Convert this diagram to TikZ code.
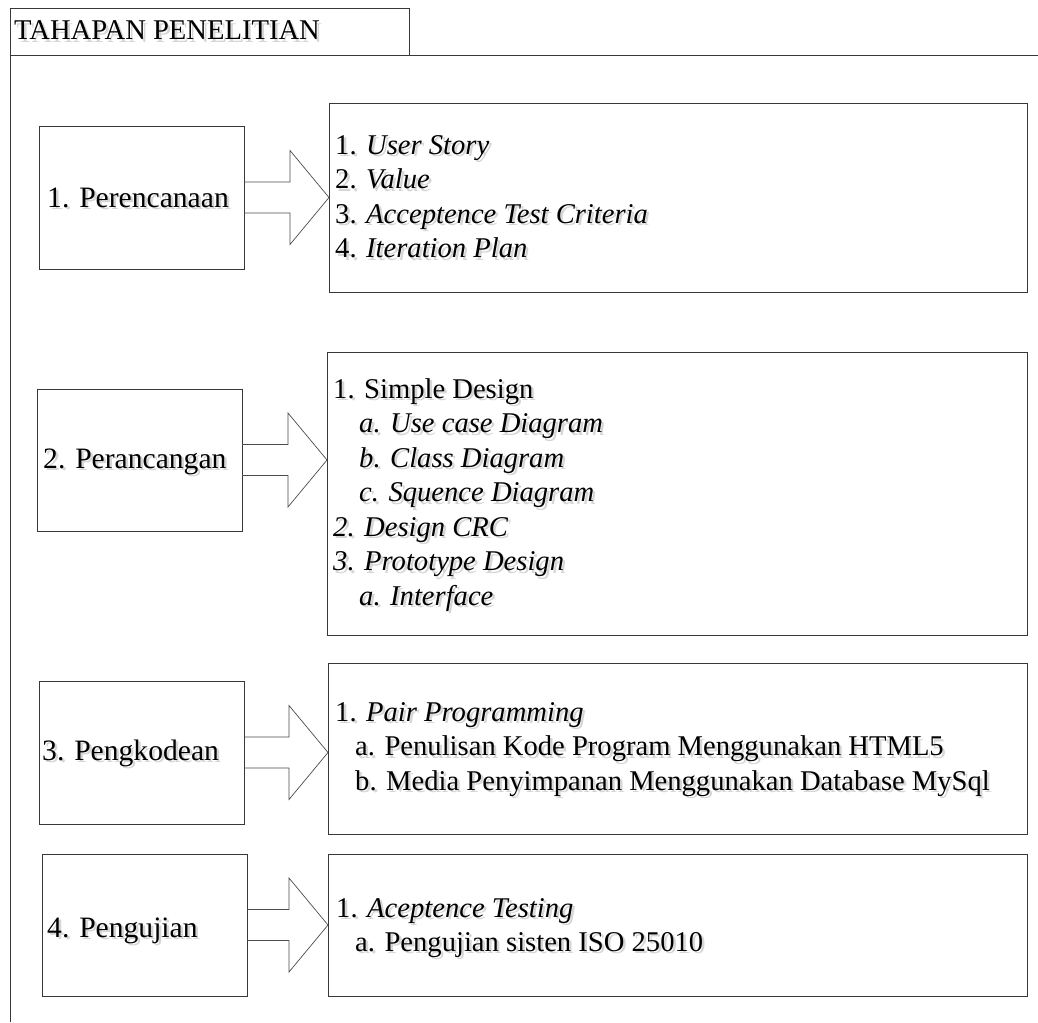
\documentclass[tikz,border=0pt]{standalone}
\usepackage{fontspec}
\setmainfont{Liberation Serif}
\usetikzlibrary{calc,backgrounds}
\tikzset{
  boxline/.style={draw=black!78, line width=0.9pt},
  shline/.style={draw=black!12, line width=1.2pt},
  arrline/.style={draw=black!70, line width=0.7pt, line join=miter},
  arrshadow/.style={draw=black!12, line width=1pt},
  txt/.style={anchor=base west, inner sep=0pt, font=\fontsize{28.6}{34}\selectfont},
  lbl/.style={anchor=base west, inner sep=0pt, font=\fontsize{29.6}{34}\selectfont},
  txtsh/.style={text=black!16, xshift=2.5pt, yshift=-2.5pt},
}
\newcommand\mybox[5]{%
  \node[boxline, minimum width=#4pt, minimum height=#5pt, anchor=north west, inner sep=0pt, outer sep=0pt] (#1) at (#2,#3) {};
  \begin{scope}[on background layer]
    \draw[shline] ($(#1.north west)+(4,4)$) rectangle ($(#1.south east)+(4,4)$);
  \end{scope}}
\newcommand\mytxt[5]{% style, name, x, y, text
  \node[#1, txtsh] at (#3,#4) {#5};
  \node[#1] (#2) at (#3,#4) {#5};}
\newcommand\blkarrow[2]{%
  \coordinate (#1tip) at (#2.west |- #1.east);
  \begin{scope}[on background layer]
  \draw[arrshadow, shift={(3,3)}] ($(#1.east)+(0,-15.5)$) -- ($(#1tip)+(-39,-15.5)$) -- ($(#1tip)+(-39,-47)$) -- (#1tip) -- ($(#1tip)+(-39,47)$) -- ($(#1tip)+(-39,15.5)$) -- ($(#1.east)+(0,15.5)$);
  \end{scope}
  \draw[arrline] ($(#1.east)+(0,-15.5)$) -- ($(#1tip)+(-39,-15.5)$) -- ($(#1tip)+(-39,-47)$) -- (#1tip) -- ($(#1tip)+(-39,47)$) -- ($(#1tip)+(-39,15.5)$) -- ($(#1.east)+(0,15.5)$);}
\begin{document}
\begin{tikzpicture}[x=1pt, y=-1pt]
\useasboundingbox[fill=white] (0,0) rectangle (1038,1022);
% title frame
\node[boxline, minimum width=399pt, minimum height=47pt, anchor=north west, inner sep=0pt, outer sep=0pt] (title) at (10,8) {};
\mytxt{txt}{titletxt}{14}{40}{TAHAPAN PENELITIAN}
\coordinate (frameR) at (1038,55);
\coordinate (frameB) at (10,1022);
\draw[boxline] (title.south east) -- (frameR);
\draw[boxline] (title.south west) -- (frameB);

% boxes
\mybox{l1}{39}{126}{205}{143}
\mybox{r1}{329}{103}{698}{189}
\mybox{l2}{37}{389}{205}{142}
\mybox{r2}{327}{352}{700}{283}
\mybox{l3}{39}{681}{205}{143}
\mybox{r3}{328}{663}{699}{171}
\mybox{l4}{42}{854}{205}{142}
\mybox{r4}{328}{854}{699}{142}

% arrows
\blkarrow{l1}{r1}
\blkarrow{l2}{r2}
\blkarrow{l3}{r3}
\blkarrow{l4}{r4}

% labels
\mytxt{lbl}{t1}{47}{207}{1. Perencanaan}
\mytxt{lbl}{t2}{43}{468}{2. Perancangan}
\mytxt{lbl}{t3}{42}{760}{3. Pengkodean}
\mytxt{lbl}{t4}{47}{937}{4. Pengujian}

% row 1
\mytxt{txt}{a1}{335}{154}{1. \textit{User Story}}
\mytxt{txt}{a2}{335}{188.5}{2. \textit{Value}}
\mytxt{txt}{a3}{335}{223}{3. \textit{Acceptence Test Criteria}}
\mytxt{txt}{a4}{335}{257.5}{4. \textit{Iteration Plan}}

% row 2
\mytxt{txt}{b1}{333}{398}{1. Simple Design}
\mytxt{txt}{b2}{359}{432.5}{\textit{a. Use case Diagram}}
\mytxt{txt}{b3}{359}{467}{\textit{b. Class Diagram}}
\mytxt{txt}{b4}{359}{501.5}{\textit{c. Squence Diagram}}
\mytxt{txt}{b5}{333}{536}{\textit{2. Design CRC}}
\mytxt{txt}{b6}{333}{570.5}{\textit{3. Prototype Design}}
\mytxt{txt}{b7}{359}{605}{\textit{a. Interface}}

% row 3
\mytxt{txt}{c1}{335}{721}{1. \textit{Pair Programming}}
\mytxt{txt}{c2}{355}{755.5}{a. Penulisan Kode Program Menggunakan HTML5}
\mytxt{txt}{c3}{355}{790}{b. Media Penyimpanan Menggunakan Database MySql}

% row 4
\mytxt{txt}{d1}{336}{917}{1. \textit{Aceptence Testing}}
\mytxt{txt}{d2}{355}{951}{a. Pengujian sisten ISO 25010}
\end{tikzpicture}
\end{document}
